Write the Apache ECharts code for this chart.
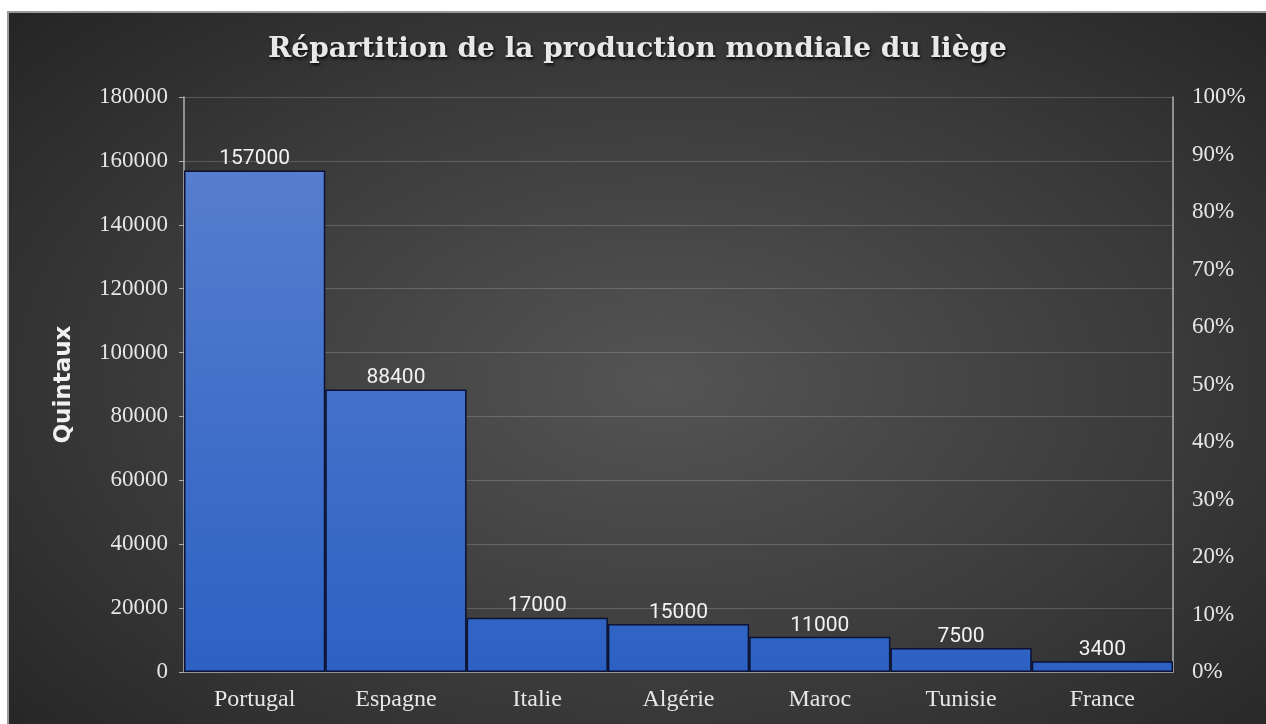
<!DOCTYPE html>
<html>
<head>
<meta charset="utf-8">
<title>Répartition de la production mondiale du liège</title>
<script src="https://cdn.jsdelivr.net/npm/echarts@6/dist/echarts.min.js"></script>
<style>
	html, body { margin: 0; padding: 0; background: #fff; overflow: hidden; }
	#chart {
		position: absolute; left: 7px; top: 11px;
		width: 1257px; height: 711px;
		border-left: 2px solid #9a9a9a; border-top: 2px solid #9a9a9a;
		background: radial-gradient(ellipse 75% 80% at 52% 52%, #545454 0%, #3a3a3a 55%, #222222 100%);
	}
</style>
</head>
<body>
<div id="chart"></div>
<script>
var pays = ['Portugal', 'Espagne', 'Italie', 'Algérie', 'Maroc', 'Tunisie', 'France'];
var quintaux = [157000, 88400, 17000, 15000, 11000, 7500, 3400];
var pourcent = [0, 10, 20, 30, 40, 50, 60, 70, 80, 90, 100];

var chart = echarts.init(document.getElementById('chart'));
var option = {
	backgroundColor: 'transparent',
	animation: false,
	title: {
		text: 'Répartition de la production mondiale du liège',
		left: 'center',
		top: 18,
		textStyle: {
			fontFamily: 'DejaVu Serif',
			fontWeight: 'bold',
			fontSize: 28,
			color: '#e8e8e8',
			textShadowColor: 'rgba(0,0,0,0.8)',
			textShadowBlur: 3,
			textShadowOffsetX: 1,
			textShadowOffsetY: 2
		}
	},
	grid: {
		left: 175,
		right: 93,
		top: 84,
		bottom: 52,
		containLabel: false
	},
	xAxis: {
		type: 'category',
		data: pays,
		axisLine: { lineStyle: { color: '#a8a8a8', width: 1.5 } },
		axisTick: { alignWithLabel: true, length: 5, lineStyle: { color: '#a8a8a8' } },
		axisLabel: {
			margin: 16,
			fontFamily: 'Liberation Serif',
			fontSize: 24,
			color: '#e6e6e6'
		}
	},
	yAxis: [{
		type: 'value',
		name: 'Quintaux',
		nameLocation: 'middle',
		nameGap: 108,
		nameTextStyle: {
			fontFamily: 'DejaVu Sans',
			fontWeight: 'bold',
			fontSize: 23,
			color: '#f0f0f0'
		},
		min: 0,
		max: 180000,
		interval: 20000,
		axisLine: { show: true, lineStyle: { color: '#b0b0b0', width: 1.5 } },
		axisTick: { show: true, length: 5, lineStyle: { color: '#b0b0b0' } },
		axisLabel: {
			margin: 16,
			formatter: function(v) { return String(v); },
			fontFamily: 'Liberation Serif',
			fontSize: 23,
			color: '#e6e6e6'
		},
		splitLine: { lineStyle: { color: 'rgba(255,255,255,0.18)', width: 1 } }
	}, {
		type: 'value',
		min: pourcent[0],
		max: pourcent[pourcent.length - 1],
		interval: 10,
		position: 'right',
		axisLine: { show: true, lineStyle: { color: '#b0b0b0', width: 1.5 } },
		axisTick: { show: false },
		axisLabel: {
			margin: 19,
			formatter: '{value}%',
			fontFamily: 'Liberation Serif',
			fontSize: 23,
			color: '#e6e6e6'
		},
		splitLine: { show: false }
	}],
	series: [{
		type: 'bar',
		data: quintaux,
		barCategoryGap: 0,
		itemStyle: {
			color: {
				type: 'linear', x: 0, y: 84, x2: 0, y2: 659, global: true,
				colorStops: [
					{ offset: 0, color: '#5c82d0' },
					{ offset: 1, color: '#2c61c3' }
				]
			},
			borderColor: '#0b1233',
			borderWidth: 1.5
		},
		label: {
			show: true,
			position: 'top',
			distance: 1,
			fontFamily: 'Roboto',
			fontSize: 21,
			color: '#f2f2f2'
		}
	}]
};
chart.setOption(option);
</script>
</body>
</html>
